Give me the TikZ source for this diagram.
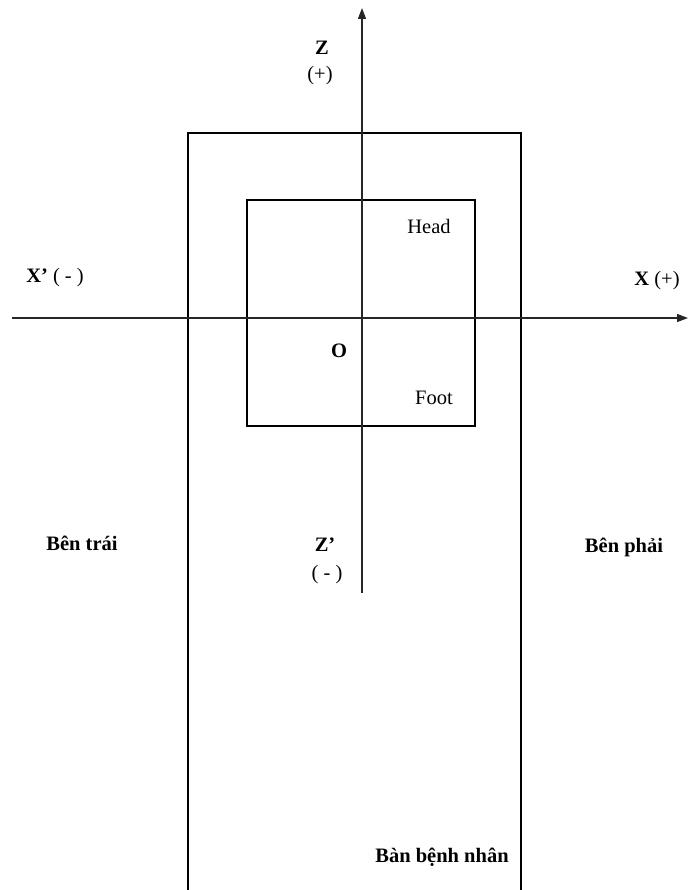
\documentclass[tikz,border=0pt]{standalone}
\usepackage{fontspec}
\setmainfont{Liberation Serif}
\usetikzlibrary{arrows.meta}
\begin{document}
\begin{tikzpicture}[x=1pt,y=-1pt,
  box/.style={draw=black,line width=2pt},
  axis/.style={draw=black!85,line width=1.4pt,-{Triangle[length=11pt,width=8pt]}},
  lbl/.style={font=\fontsize{20.5}{24}\selectfont,inner sep=0pt},
  blbl/.style={font=\fontsize{20.5}{24}\selectfont\bfseries,inner sep=0pt}]
\useasboundingbox (0,0) rectangle (691,890);
% outer table
\draw[box] (188,895) -- (188,133) -- (521,133) -- (521,895);
% inner box
\draw[box] (247,200) rectangle (475,426);
% axes
\coordinate (xs) at (12,318);
\coordinate (xe) at (688,318);
\coordinate (zs) at (362,593);
\coordinate (ze) at (362,8);
\draw[axis] (xs) -- (xe);
\draw[axis] (zs) -- (ze);
% labels
\node[blbl] (z) at (322,48) {Z};
\node[lbl] (zp) at (320,76) {(+)};
\node[lbl] (xm) at (55,278) {\textbf{X’} ( - )};
\node[lbl] (xp) at (657,281) {\textbf{X} (+)};
\node[blbl] (o) at (339,351) {O};
\node[lbl] (head) at (429,226) {Head};
\node[lbl] (foot) at (434,398) {Foot};
\node[blbl] (left) at (82,543) {Bên trái};
\node[blbl] (zq) at (325,545) {Z’};
\node[lbl] (zm) at (327,575) {( - )};
\node[blbl] (right) at (624,547) {Bên phải};
\node[blbl] (table) at (442,857) {Bàn bệnh nhân};
\end{tikzpicture}
\end{document}
